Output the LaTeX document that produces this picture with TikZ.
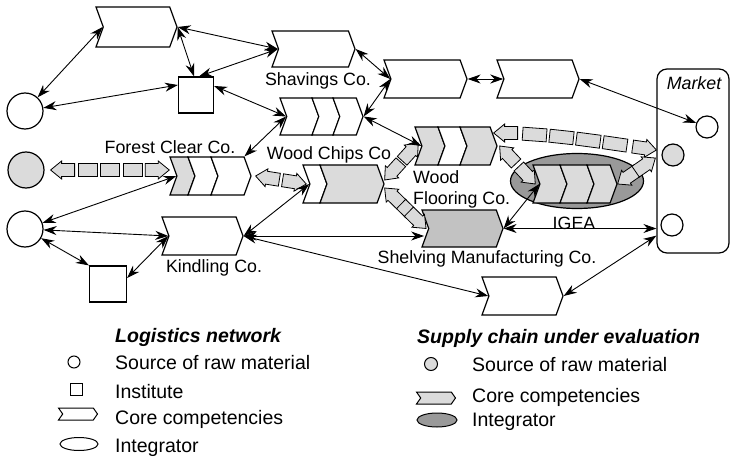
\documentclass[tikz,border=0pt]{standalone}
\usepackage{fontspec}
\setmainfont{Liberation Sans}
\usetikzlibrary{arrows.meta, calc, shapes.symbols, shapes.geometric, decorations.markings}

\definecolor{lightfill}{gray}{0.86}
\definecolor{shelffill}{gray}{0.76}
\definecolor{igeafill}{gray}{0.6}

% pieces of the block arrows, drawn along the path
\newcommand\flowtail{\draw[flowpart] (0,0) -- (11,9) -- (11,6.5) -- (24,6.5)
  -- (24,-6.5) -- (11,-6.5) -- (11,-9) -- cycle;}
\newcommand\flowtip{\draw[flowpart] (0,0) -- (-11,9) -- (-11,6.5) -- (-24,6.5)
  -- (-24,-6.5) -- (-11,-6.5) -- (-11,-9) -- cycle;}
\newcommand\flowbox[1]{\draw[flowpart] (-#1,-6.5) rectangle (#1,6.5);}

\tikzset{
  comp/.style={signal, signal from=west, signal to=east, signal pointer angle=140,
    draw, line width=1.2pt, minimum height=38pt, inner sep=0pt, fill=white},
  src/.style={circle, draw, line width=1.2pt, minimum size=36pt, inner sep=0pt, fill=white},
  inst/.style={rectangle, draw, line width=1.2pt, minimum size=36pt, inner sep=0pt, fill=white},
  link/.style={{Stealth[length=13pt,width=9pt]}-{Stealth[length=13pt,width=9pt]}, line width=0.9pt},
  lbl/.style={font=\fontsize{17.8}{21}\selectfont, inner sep=0pt},
  keytext/.style={font=\fontsize{19.5}{22}\selectfont, inner sep=0pt, anchor=west},
  flowpart/.style={draw, fill=lightfill, line width=0.8pt},
  flow/.style={postaction=decorate, decoration={markings,
    mark=at position 0 with {\flowtail}, #1,
    mark=at position 0.9999 with {\flowtip}}},
  flow/.default={},
}

\begin{document}
\begin{tikzpicture}[x=1pt, y=-1pt]
\useasboundingbox[fill=white] (0,0) rectangle (730,457);

% market
\node[draw, line width=1.2pt, rounded corners=10pt, minimum width=72pt, minimum height=184pt] (market) at (693,161) {};
\node[lbl, font=\fontsize{17.8}{21}\selectfont\itshape] (mklbl) at (694,83) {Market};
\node[src, minimum size=22pt] (mkA) at (707,127) {};
\node[src, minimum size=22pt, fill=lightfill] (mkB) at (673,155) {};
\node[src, minimum size=22pt] (mkC) at (672,225) {};

% integrator
\node[ellipse, draw, line width=1.2pt, fill=igeafill, minimum width=133pt, minimum height=55pt] (igea) at (577,181) {};

% sources and institutes
\node[src] (srcA) at (25,111) {};
\node[src, fill=lightfill] (srcB) at (26,170) {};
\node[src] (srcC) at (25,229) {};
\node[inst, minimum width=35pt] (instA) at (196,95) {};
\node[inst, minimum width=37pt] (instB) at (108,284) {};

% core competencies
\node[comp, minimum width=81pt, minimum height=40pt] (compA) at (136.5,27) {};
\node[comp, minimum width=83pt, minimum height=36pt] (shav) at (313.5,49) {};
\node[comp, minimum width=83pt] (upA) at (425.5,79) {};
\node[comp, minimum width=82pt] (upB) at (538,79) {};
\node[comp, minimum width=81pt] (kind) at (202.5,236) {};
\node[comp, minimum width=81pt, minimum height=37pt, fill=shelffill] (shelf) at (462.5,228.5) {};
\node[comp, minimum width=81pt] (outlet) at (522.5,296) {};
\foreach \i/\xl/\b/\c in {1/280/32/white, 2/312/21/white, 3/333/23/white}
  \node[comp, minimum width=\b+7, minimum height=37pt, fill=\c] (chips\i) at ({\xl+(\b+7)/2},116.5) {};
\foreach \i/\xl/\b/\c in {1/170/18/lightfill, 2/188/23/white, 3/211/33/white}
  \node[comp, minimum width=\b+7, fill=\c] (forest\i) at ({\xl+(\b+7)/2},176) {};
\foreach \i/\xl/\b/\c in {1/303/17/white, 2/320/57/lightfill}
  \node[comp, minimum width=\b+7, fill=\c] (mill\i) at ({\xl+(\b+7)/2},184) {};
\foreach \i/\xl/\b/\c in {1/415/23/lightfill, 2/438/22/white, 3/460/30/lightfill}
  \node[comp, minimum width=\b+7, fill=\c] (floor\i) at ({\xl+(\b+7)/2},146) {};
\foreach \i/\xl/\b/\c in {1/533/27/lightfill, 2/560/27/lightfill, 3/587/23/lightfill}
  \node[comp, minimum width=\b+7, fill=\c] (igea\i) at ({\xl+(\b+7)/2},184) {};

% material flows of the chain
\path[flow={mark=between positions 37pt and 86pt step 22.5pt with {\flowbox{9.5}}}]
  ([xshift=6pt]srcB.east) -- ([xshift=-7pt]srcB.east -| forest1.west);
\path[flow] ([xshift=4pt]forest3.east) -- ([xshift=-3pt]mill1.west);
\path[flow] ([yshift=4pt]mill2.east) -- ([shift={(-3,-3)}]floor1.west);
\path[flow={mark=at position 0.5 with {\flowbox{6}}}] ([yshift=-4pt]mill2.east) -- ([xshift=-2pt]shelf.west);
\path[flow={mark=between positions 41pt and 126pt step 27pt with {\flowbox{12}}}] ([shift={(-4,-13)}]floor3.east)
  .. controls +(55,0) and +(-55,-8) .. ([shift={(-5,-5)}]mkB.west);
\path[flow] ([xshift=2pt]floor3.east) -- ([xshift=-4pt]igea1.west);
\path[flow] (igea3.east) -- ([shift={(-6,3)}]mkB.west);

% logistics links
\draw[link] (compA.west) -- (srcA);
\draw[link] (srcA) -- ([yshift=10pt]instA.west);
\draw[link] (compA.east) -- ([xshift=-2pt]instA.north);
\draw[link] (shav.west) -- (compA.east);
\draw[link] (shav.west) -- ([xshift=3pt]instA.north);
\draw[link] ([yshift=9pt]instA.east) -- (chips1.west);
\draw[link] (chips1.west) -- (forest3.north east);
\draw[link] (shav.east) -- (upA.west);
\draw[link] (chips3.east) -- (upA.west);
\draw[link] (chips3.east) -- (floor1.west);
\draw[link] (upA.east) -- (upB.west);
\draw[link] (upB.east) -- (mkA);
\draw[link] (srcC) -- (forest1.west);
\draw[link] (srcC) -- (kind.west);
\draw[link] (srcC) -- (instB.north west);
\draw[link] ([yshift=6pt]instB.east) -- (kind.west);
\draw[link] (kind.east) -- (mill1.west);
\draw[link] (kind.east) -- ([xshift=-4pt]kind.east -| shelf.west);
\draw[link] (kind.east) -- (outlet.west);
\draw[link] (shelf.east) -- (shelf.east -| market.west);
\draw[link] (shelf.east) -- (igea1.west);
\draw[link] (outlet.east) -- ($(market.south west)+(0,-18)$);

% labels
\node[lbl] (shavlbl) at (318,81) {Shavings Co.};
\node[lbl] (chipslbl) at (329,155) {Wood Chips Co};
\node[lbl] (forestlbl) at (170,147) {Forest Clear Co.};
\node[lbl] (kindlbl) at (214,268) {Kindling Co.};
\node[lbl, align=left, anchor=north west] (floorlbl) at (413,170) {Wood\\Flooring Co.};
\node[lbl] (shelflbl) at (487,259) {Shelving Manufacturing Co.};
\node[lbl] (igealbl) at (574,223) {IGEA};

% legend
\node[keytext, font=\fontsize{19.5}{22}\selectfont\bfseries\itshape] (keyA) at (115,337) {Logistics network};
\node[src, minimum size=12pt, line width=1pt] (keysrc) at (74,362) {};
\node[keytext] at (115,363) {Source of raw material};
\node[inst, minimum size=12pt, line width=1pt] (keyinst) at (76,389) {};
\node[keytext] at (115,392) {Institute};
\node[comp, minimum width=39pt, minimum height=12pt, signal pointer angle=110, line width=1pt] (keycomp) at (78,414) {};
\node[keytext] at (115,419) {Core competencies};
\node[ellipse, draw, line width=1pt, minimum width=38pt, minimum height=13pt] (keyint) at (79,444) {};
\node[keytext] at (115,448) {Integrator};

\node[keytext, font=\fontsize{19.5}{22}\selectfont\bfseries\itshape] (keyB) at (417,338) {Supply chain under evaluation};
\node[src, minimum size=13pt, line width=1pt, fill=lightfill] (keysrcB) at (431,364) {};
\node[keytext] at (472,365) {Source of raw material};
\node[comp, minimum width=39pt, minimum height=12pt, signal pointer angle=110, line width=1pt, fill=lightfill] (keycompB) at (436,398) {};
\node[keytext] at (472,397) {Core competencies};
\node[ellipse, draw, line width=1pt, fill=igeafill, minimum width=40pt, minimum height=14pt] (keyintB) at (437,420) {};
\node[keytext] at (472,422) {Integrator};
\end{tikzpicture}
\end{document}
